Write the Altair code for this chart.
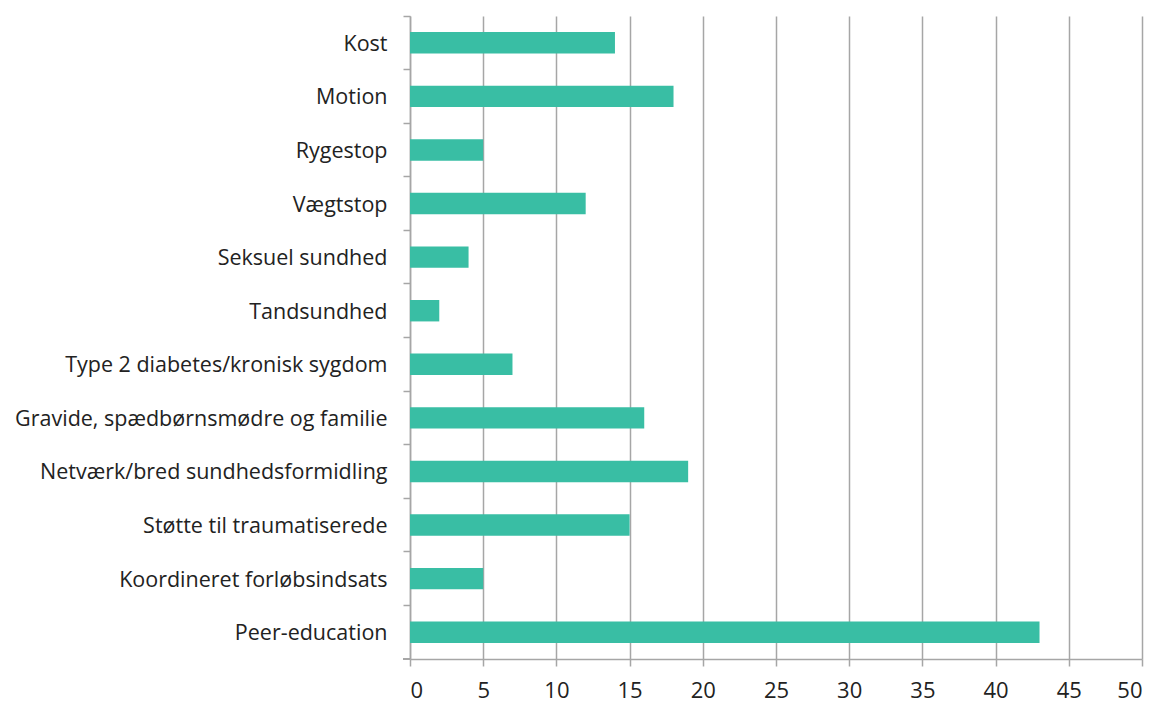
import altair as alt
import pandas as pd

categories = ["Kost", "Motion", "Rygestop", "Vægtstop", "Seksuel sundhed", "Tandsundhed",
              "Type 2 diabetes/kronisk sygdom", "Gravide, spædbørnsmødre og familie",
              "Netværk/bred sundhedsformidling", "Støtte til traumatiserede",
              "Koordineret forløbsindsats", "Peer-education"]
values = [14, 18, 5, 12, 4, 2, 7, 16, 19, 15, 5, 43]
x_ticks = [0, 5, 10, 15, 20, 25, 30, 35, 40, 45, 50]

df = pd.DataFrame({"cat": categories, "val": values})

FONT = "Open Sans"
GRID = "#A6A6A6"

bars = alt.Chart(df).mark_bar(color="#39BEA4", height={"band": 0.4}).encode(
    x=alt.X("val:Q", scale=alt.Scale(domain=[0, 50], nice=False),
            axis=alt.Axis(values=x_ticks, title=None, grid=True, gridColor=GRID, gridWidth=1.5,
                          domainColor=GRID, domainWidth=1.5, tickColor=GRID, tickWidth=1.5,
                          tickSize=7, labelFontSize=22, labelFont=FONT, labelColor="#222222",
                          labelPadding=14)),
    y=alt.Y("cat:N", sort=categories,
            scale=alt.Scale(paddingInner=0, paddingOuter=0),
            axis=alt.Axis(title=None, bandPosition=0, domainColor=GRID, domainWidth=1.5,
                          tickColor=GRID, tickWidth=1.5, tickSize=7, labelFontSize=21.5,
                          labelFont=FONT, labelColor="#222222", labelPadding=16,
                          labelOffset=2, labelLimit=500, grid=False)),
)

corner = alt.Chart(df).mark_rule(color=GRID, strokeWidth=1.5).encode(
    x=alt.value(-7), x2=alt.value(0), y=alt.value(643)
)

chart = alt.layer(bars, corner).properties(
    width=732, height=643,
    autosize=alt.AutoSizeParams(type="none"),
    padding={"left": 402, "top": 8, "right": 10, "bottom": 43},
).configure_view(stroke=None).configure_axisX(gridColor=GRID)

chart.save("out.html", embed_options={"renderer": "svg", "actions": False})
